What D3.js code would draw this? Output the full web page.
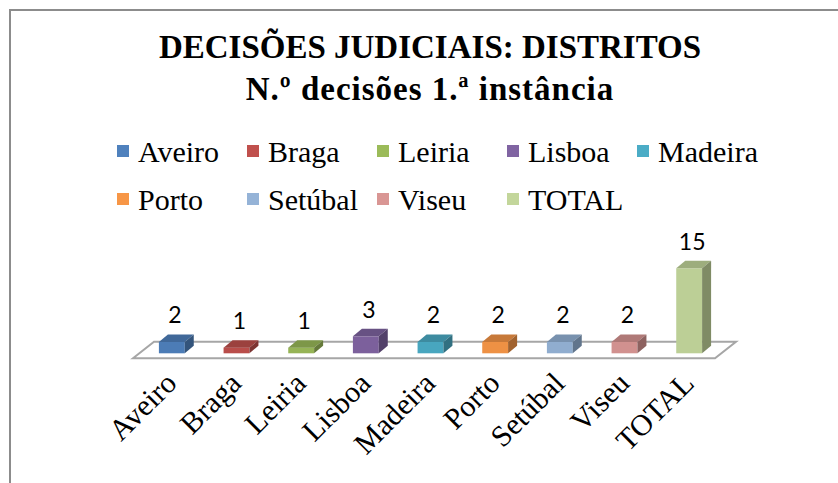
<!DOCTYPE html>
<html>
<head>
<meta charset="utf-8">
<script src="https://cdn.jsdelivr.net/npm/d3@7"></script>
<style>
  body { margin: 0; background: #fff; }
  svg { display: block; }
  .serif { font-family: "Liberation Serif", "Times New Roman", serif; }
  .label { font-family: Lato, "Open Sans", sans-serif; }
</style>
</head>
<body>
<div id="chart"></div>
<script>
const categories = ["Aveiro", "Braga", "Leiria", "Lisboa", "Madeira", "Porto", "Setúbal", "Viseu", "TOTAL"];
const values = [2, 1, 1, 3, 2, 2, 2, 2, 15];
const colors = ["#4f81bd", "#c0504d", "#9bbb59", "#8064a2", "#4bacc6", "#f79646", "#95b3d7", "#d99694", "#c3d69b"];
const titleLines = ["DECISÕES JUDICIAIS: DISTRITOS", "N.º decisões 1.ª instância"];

const width = 838, height = 483;

// 3D look: floor depth and bar depth offsets
const floorFrontY = 358.3;
const floorDepth = {dx: 21, dy: -16.5};
const barShift = {dx: 6.5, dy: -5};
const barDepth = {dx: 9, dy: -7.5};

const svg = d3.select("#chart").append("svg")
    .attr("width", width)
    .attr("height", height);

// chart frame (right and bottom edges are outside the window)
svg.append("path")
    .attr("d", "M10,490 L10,10 L850,10")
    .attr("fill", "none")
    .attr("stroke", "#8c8c8c")
    .attr("stroke-width", 2);

// title
svg.append("g").selectAll("text")
  .data(titleLines)
  .enter().append("text")
    .attr("class", "serif")
    .attr("x", 430)
    .attr("y", (d, i) => 58 + i * 42)
    .attr("text-anchor", "middle")
    .attr("font-weight", "bold")
    .attr("font-size", 33)
    .attr("letter-spacing", (d, i) => i ? 1 : 0)
    .text((d) => d);

// legend
const legend = svg.append("g").selectAll(".item")
    .data(categories)
  .enter().append("g")
    .attr("class", "item")
    .attr("transform", (d, i) =>
      "translate(" + (117 + (i % 5) * 130) + "," + (145 + Math.floor(i / 5) * 48) + ")");
legend.append("rect")
    .attr("width", 12)
    .attr("height", 12)
    .attr("fill", (d, i) => colors[i]);
legend.append("text")
    .attr("class", "serif")
    .attr("x", 21)
    .attr("y", 17)
    .attr("font-size", 30)
    .text((d) => d);

const x = d3.scaleBand()
    .domain(categories)
    .range([133, 715])
    .paddingInner(0.6)
    .paddingOuter(0.3);

const y = d3.scaleLinear()
    .domain([0, 15])
    .range([floorFrontY + barShift.dy, 268.3]);

// floor
const x0 = x.range()[0], x1 = x.range()[1];
svg.append("polygon")
    .attr("points", [
      [x0, floorFrontY],
      [x0 + floorDepth.dx, floorFrontY + floorDepth.dy],
      [x1 + floorDepth.dx, floorFrontY + floorDepth.dy],
      [x1, floorFrontY]
    ].join(" "))
    .attr("fill", "#fff")
    .attr("stroke", "#a6a6a6")
    .attr("stroke-width", 2);

const bars = svg.append("g").selectAll(".bar")
    .data(values.map((v, i) => ({name: categories[i], value: v, color: colors[i]})))
  .enter().append("g")
    .attr("class", "bar");

const w = x.bandwidth();
const fx = (d) => x(d.name) + barShift.dx;

// front
bars.append("rect")
    .attr("x", fx)
    .attr("y", (d) => y(d.value))
    .attr("width", w)
    .attr("height", (d) => y(0) - y(d.value))
    .attr("fill", (d) => d3.color(d.color).darker(0.1));

// top
bars.append("polygon")
    .attr("points", (d) => {
      const l = fx(d), t = y(d.value);
      return [[l, t], [l + w, t], [l + w + barDepth.dx, t + barDepth.dy], [l + barDepth.dx, t + barDepth.dy]].join(" ");
    })
    .attr("fill", (d) => d3.color(d.color).darker(0.6));

// side
bars.append("polygon")
    .attr("points", (d) => {
      const r = fx(d) + w, t = y(d.value), b = y(0);
      return [[r, t], [r + barDepth.dx, t + barDepth.dy], [r + barDepth.dx, b + barDepth.dy], [r, b]].join(" ");
    })
    .attr("fill", (d) => d3.color(d.color).darker(1.2));

// data labels
bars.append("text")
    .attr("class", "label")
    .attr("x", (d) => fx(d) + w / 2 + 3)
    .attr("y", (d) => y(d.value) + barDepth.dy - 11)
    .attr("text-anchor", "middle")
    .attr("font-size", 23)
    .text((d) => d.value);

// category axis labels, rotated
svg.append("g").selectAll("text")
    .data(categories)
  .enter().append("text")
    .attr("class", "serif")
    .attr("font-size", 30)
    .attr("text-anchor", "end")
    .attr("transform", (d) =>
      "translate(" + (x(d) + w / 2 + 13) + "," + 385 + ") rotate(-45)")
    .text((d) => d);
</script>
</body>
</html>
